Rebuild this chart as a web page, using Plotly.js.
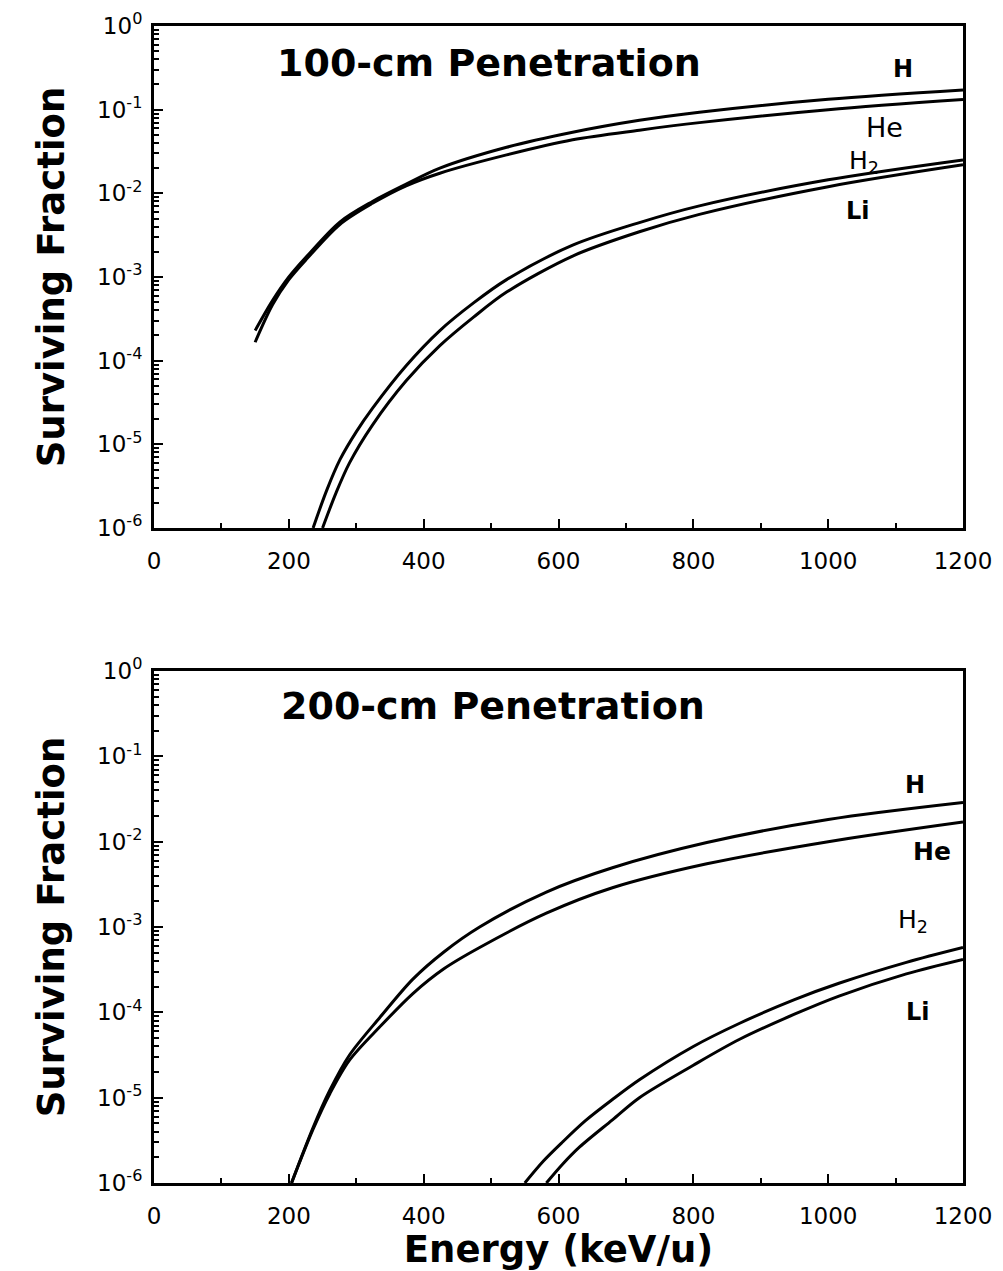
<!DOCTYPE html>
<html>
<head>
<meta charset="utf-8">
<script src="https://cdn.plot.ly/plotly-3.0.1.min.js"></script>
<style>html,body{margin:0;padding:0;background:#fff;}#chart{width:1003px;height:1271px;}</style>
</head>
<body>
<div id="chart"></div>
<script>
// ---------- Data ----------
// 100-cm penetration
const top_E_H  = [150, 176, 200, 227, 276, 324, 374, 424, 523, 621, 720, 809, 1000, 1200];
const top_H    = [2.29e-4, 5.25e-4, 1.0e-3, 1.78e-3, 4.57e-3, 8.0e-3, 0.0129, 0.0200, 0.0355, 0.0537, 0.0746, 0.0933, 0.133, 0.172];
const top_He   = [1.66e-4, 4.68e-4, 9.3e-4, 1.66e-3, 4.27e-3, 7.6e-3, 0.0123, 0.0174, 0.0288, 0.0437, 0.0569, 0.0700, 0.100, 0.132];
const top_E_H2 = [236, 256, 276, 300, 324, 374, 424, 474, 523, 621, 720, 809, 1000, 1200];
const top_H2   = [1e-6, 2.8e-6, 6.6e-6, 1.41e-5, 2.69e-5, 8.7e-5, 2.29e-4, 4.9e-4, 9.3e-4, 2.4e-3, 4.47e-3, 7.08e-3, 0.0145, 0.0251];
const top_E_Li = [250, 270, 290, 324, 374, 424, 474, 523, 621, 720, 809, 1000, 1200];
const top_Li   = [1e-6, 2.63e-6, 6.0e-6, 1.7e-5, 5.75e-5, 1.51e-4, 3.31e-4, 6.6e-4, 1.78e-3, 3.47e-3, 5.6e-3, 0.012, 0.0219];

// 200-cm penetration
const bot_E_H  = [204, 236, 261, 290, 335, 384, 430, 483, 582, 680, 820, 1000, 1200];
const bot_H    = [1e-6, 4.47e-6, 1.23e-5, 3.16e-5, 8.7e-5, 2.45e-4, 5.1e-4, 1.0e-3, 2.57e-3, 4.95e-3, 9.77e-3, 0.0182, 0.0288];
const bot_He   = [1e-6, 4.27e-6, 1.12e-5, 2.75e-5, 6.76e-5, 1.66e-4, 3.24e-4, 5.75e-4, 1.45e-3, 2.88e-3, 5.5e-3, 0.0100, 0.0170];
const bot_E_H2 = [550, 578, 606, 640, 680, 720, 800, 868, 950, 1016, 1116, 1200];
const bot_H2   = [1e-6, 1.82e-6, 3.02e-6, 5.37e-6, 9.5e-6, 1.62e-5, 3.98e-5, 7.4e-5, 1.41e-4, 2.19e-4, 3.85e-4, 5.75e-4];
const bot_E_Li = [582, 606, 631, 680, 720, 800, 868, 950, 1016, 1116, 1200];
const bot_Li   = [1e-6, 1.66e-6, 2.63e-6, 5.5e-6, 1e-5, 2.4e-5, 4.8e-5, 9.5e-5, 1.55e-4, 2.82e-4, 4.17e-4];

const yTickVals = [1e-6, 1e-5, 1e-4, 1e-3, 1e-2, 1e-1, 1];
const yTickText = ['10<sup>-6</sup>', '10<sup>-5</sup>', '10<sup>-4</sup>', '10<sup>-3</sup>', '10<sup>-2</sup>', '10<sup>-1</sup>', '10<sup>0</sup>'];
const xTickVals = [0, 200, 400, 600, 800, 1000, 1200];

// ---------- Layout helpers ----------
const W = 1003, Hh = 1271;
const M = {l: 154, r: 40, t: 26, b: 88};
const PW = W - M.l - M.r, PH = Hh - M.t - M.b;
const px = x => (x - M.l) / PW;
const py = y => (Hh - M.b - y) / PH;

const minorY = [];
for (let e = -6; e < 0; e++) for (let k = 2; k <= 9; k++) minorY.push(k * Math.pow(10, e));

const lineStyle = {color: 'black', width: 3, shape: 'spline', smoothing: 0.9};
function tr(x, y, ax, name) {
  return {x: x, y: y, xaxis: ax[0], yaxis: ax[1], mode: 'lines', line: lineStyle, name: name, showlegend: false, hoverinfo: 'skip'};
}

const data = [
  tr(top_E_H, top_H, ['x', 'y'], 'H'),
  tr(top_E_H, top_He, ['x', 'y'], 'He'),
  tr(top_E_H2, top_H2, ['x', 'y'], 'H2'),
  tr(top_E_Li, top_Li, ['x', 'y'], 'Li'),
  tr(bot_E_H, bot_H, ['x2', 'y2'], 'H'),
  tr(bot_E_H, bot_He, ['x2', 'y2'], 'He'),
  tr(bot_E_H2, bot_H2, ['x2', 'y2'], 'H2'),
  tr(bot_E_Li, bot_Li, ['x2', 'y2'], 'Li')
];

const tickFont = {family: 'DejaVu Sans', size: 23, color: 'black'};
const titleFont = {family: 'DejaVu Sans', size: 37, color: 'black', weight: 'bold'};

function xAxis(anchor, withTitle) {
  const a = {
    anchor: anchor, domain: [0, 1], range: [0, 1200],
    tickmode: 'array', tickvals: xTickVals, ticks: 'inside', ticklen: 9, tickwidth: 2, tickcolor: 'black',
    minor: {tickmode: 'linear', tick0: 0, dtick: 100, ticks: 'inside', ticklen: 5, tickwidth: 2, tickcolor: 'black'},
    showline: true, linecolor: 'black', linewidth: 3, mirror: true,
    showgrid: false, zeroline: false, tickfont: tickFont, ticklabelstandoff: 10
  };
  if (withTitle) a.title = {text: 'Energy (keV/u)', font: titleFont, standoff: 4};
  return a;
}
function yAxis(anchor, domain) {
  return {
    anchor: anchor, domain: domain, type: 'log', range: [-6, 0],
    tickmode: 'array', tickvals: yTickVals, ticktext: yTickText,
    ticks: 'inside', ticklen: 9, tickwidth: 2, tickcolor: 'black',
    minor: {tickmode: 'array', tickvals: minorY, ticks: 'inside', ticklen: 5, tickwidth: 2, tickcolor: 'black'},
    showline: true, linecolor: 'black', linewidth: 3, mirror: true,
    showgrid: false, zeroline: false, tickfont: tickFont, ticklabelstandoff: 4,
    title: {text: 'Surviving Fraction', font: titleFont, standoff: 22}
  };
}

const topDomain = [py(528), py(26)];
const botDomain = [py(1183), py(671)];

function ann(x, y, text, size, bold) {
  return {xref: 'paper', yref: 'paper', x: px(x), y: py(y), text: text, showarrow: false,
    xanchor: 'center', yanchor: 'middle',
    font: {family: 'DejaVu Sans', size: size, color: 'black', weight: bold ? 'bold' : 'normal'}};
}

const layout = {
  width: W, height: Hh,
  margin: M,
  paper_bgcolor: 'white', plot_bgcolor: 'white',
  showlegend: false,
  xaxis: xAxis('y', false),
  yaxis: yAxis('x', topDomain),
  xaxis2: xAxis('y2', true),
  yaxis2: yAxis('x2', botDomain),
  annotations: [
    ann(489, 63, '100-cm Penetration', 38, true),
    ann(493, 706, '200-cm Penetration', 38, true),
    ann(903, 69, 'H', 24, true),
    ann(884, 128, 'He', 27, false),
    ann(864, 162, 'H<sub>2</sub>', 25, false),
    ann(858, 211, 'Li', 24, true),
    ann(915, 785, 'H', 24, true),
    ann(932, 851, 'He', 25, true),
    ann(913, 921, 'H<sub>2</sub>', 25, false),
    ann(918, 1012, 'Li', 24, true)
  ]
};

Plotly.newPlot('chart', data, layout, {staticPlot: true, displayModeBar: false});
</script>
</body>
</html>
